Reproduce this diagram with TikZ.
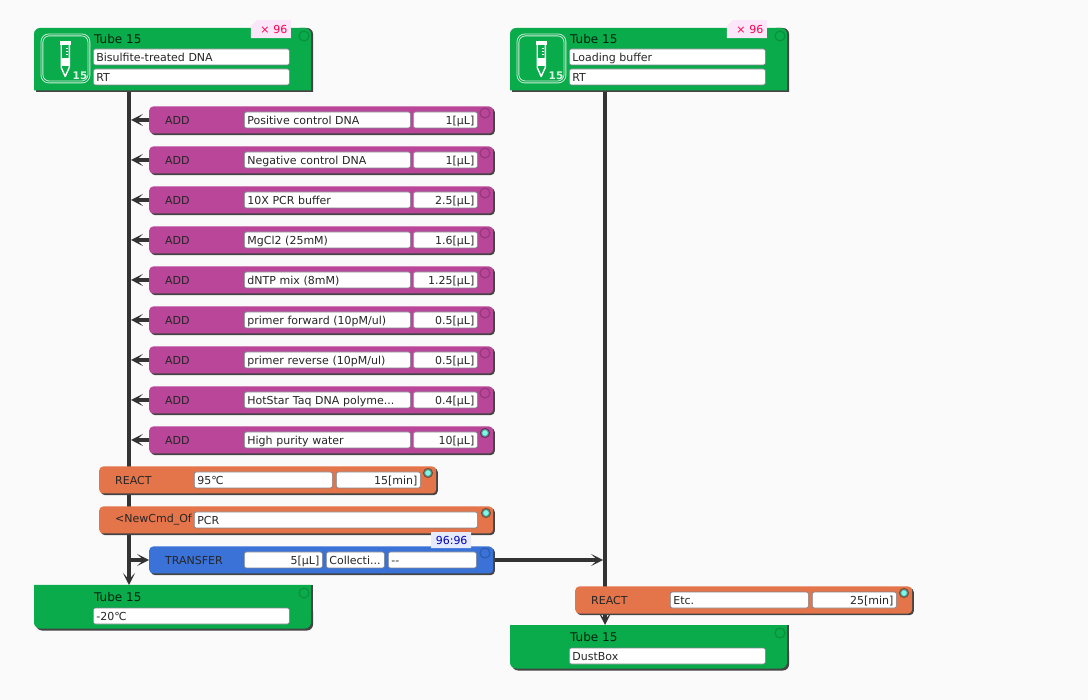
\documentclass[tikz,border=0pt]{standalone}
\usepackage{fontspec}
\setmainfont{DejaVu Sans}
\usetikzlibrary{arrows.meta,backgrounds,shadows,shapes.misc}
\definecolor{pagegrey}{HTML}{FAFAFA}
\definecolor{tubegreen}{HTML}{0AAB4A}
\definecolor{tubedark}{HTML}{0A8E40}
\definecolor{addpurple}{HTML}{BA4699}
\definecolor{reactorange}{HTML}{E4744A}
\definecolor{transferblue}{HTML}{3A72D8}
\definecolor{edgegrey}{HTML}{444444}
\definecolor{busgrey}{HTML}{333333}
\definecolor{fieldgrey}{HTML}{7C8690}
\definecolor{ledcyan}{HTML}{7FF7E6}
\definecolor{badgepink}{HTML}{FCE6FA}
\definecolor{badgeblue}{HTML}{E6EBFC}
\newcommand{\cutdots}{...}
\tikzset{
  lbl/.style={font=\fontsize{11}{13}\selectfont, inner sep=0pt, text=black!85},
  cmd/.style={rectangle, rounded corners=4pt, minimum width=#1, minimum height=27pt, inner sep=0pt, anchor=west,
    drop shadow={shadow xshift=1.6pt, shadow yshift=-1.6pt, opacity=1, fill=edgegrey}},
  field/.style={lbl, rectangle, anchor=west, fill=white, draw=fieldgrey, line width=.7pt, rounded corners=2pt,
    text width=#1-6pt, minimum height=16pt, inner xsep=3pt, text height=9.6pt, text depth=.4pt},
  num/.style={field=#1, align=right},
  head/.style={lbl, anchor=west, font=\fontsize{12}{14}\selectfont, text=black!80!tubegreen},
  led/.style={circle, minimum size=10pt, inner sep=0pt, line width=1.1pt, draw=black, draw opacity=.2},
  ledon/.style={circle, minimum size=8pt, inner sep=0pt, line width=2pt, draw=black, draw opacity=.4, fill=ledcyan},
  badge/.style={lbl, chamfered rectangle, chamfered rectangle corners=north west, chamfered rectangle xsep=3pt,
    chamfered rectangle ysep=3pt, inner xsep=.5pt, inner ysep=0pt, minimum height=18pt, minimum width=40pt,
    anchor=north east, text width=33pt, align=right},
  bus/.style={busgrey, line width=3.8pt},
  link/.style={busgrey, line width=3.4pt},
  tip/.style={-{Stealth[length=12pt, width=12pt, inset=6.5pt]}},
}
% green card: name, x, y, with rounded top
\newcommand{\tubetop}[3]{
  \fill[edgegrey, rounded corners=6pt] (#2+2,#3+20) [sharp corners] -- (#2+2,#3+64) -- (#2+279,#3+64) [rounded corners=6pt] -- (#2+279,#3) -- (#2+260,#3) -- (#2+260,#3+20) -- cycle;
  \fill[tubegreen, rounded corners=6pt] (#2,#3+20) -- (#2,#3) -- (#2+277,#3) -- (#2+277,#3+20) [sharp corners] -- (#2+277,#3+62.5) -- (#2,#3+62.5) -- cycle;
  \node[anchor=north west, minimum width=277pt, minimum height=64pt, inner sep=0pt] (#1) at (#2,#3) {};
}
% green card: name, x, y, with rounded bottom
\newcommand{\tubeend}[3]{
  \fill[edgegrey, rounded corners=6pt] (#2+279,#3+20) -- (#2+279,#3+45.5) -- (#2+2,#3+45.5) -- (#2+2,#3+20) -- cycle;
  \fill[edgegrey] (#2+270,#3) rectangle (#2+279,#3+30);
  \fill[tubegreen, rounded corners=6pt] (#2,#3+20) -- (#2,#3+43.5) -- (#2+277,#3+43.5) -- (#2+277,#3+20) [sharp corners] -- (#2+277,#3) -- (#2,#3) -- cycle;
  \node[anchor=north west, minimum width=277pt, minimum height=45pt, inner sep=0pt] (#1) at (#2,#3) {};
}
% tube picture: name, x, y
\newcommand{\tubeicon}[3]{
  \node[anchor=north west, rectangle, rounded corners=7pt, minimum width=47pt, minimum height=47pt, inner sep=0pt,
    draw=white!80!tubegreen, double=tubegreen, double distance=1pt, line width=.9pt] (#1) at (#2,#3) {};
  \fill[white] (#2+18,#3+7) rectangle (#2+29.5,#3+10.5);
  \draw[white, line width=1.4pt, line join=round] (#2+19.7,#3+10.5) -- (#2+19.7,#3+33) -- (#2+23.7,#3+42) -- (#2+27.8,#3+33) -- (#2+27.8,#3+10.5);
  \fill[white] (#2+19.7,#3+24) rectangle (#2+27.8,#3+32);
  \draw[white, line width=.8pt] (#2+24,#3+14) -- (#2+26,#3+14) (#2+24,#3+17) -- (#2+26,#3+17) (#2+24,#3+20) -- (#2+26,#3+20);
  \node[lbl, text=white!85!tubegreen, font=\fontsize{10.5}{12}\selectfont\bfseries] at (#2+38.5,#3+41.5) {15};
}
\begin{document}
\begin{tikzpicture}[x=1pt,y=-1pt]
  \useasboundingbox (0,0) rectangle (1088,700);
  \coordinate (busA) at (129,0);
  \coordinate (busB) at (605,0);

  % source tubes
  \tubetop{tubeA}{34}{28}
  \tubeicon{iconA}{41.5}{34.5}
  \node[head] (titleA) at (94,39.5) {Tube 15};
  \node[field=196pt] (sampleA) at (93,57) {Bisulfite-treated DNA};
  \node[field=196pt] (tempA) at (93,77) {RT};
  \node[led, draw=tubedark, draw opacity=1] (ledA) at (304,36) {};
  \node[badge, fill=badgepink, text=red!70!magenta] (countA) at (291,20) {× 96};

  \tubetop{tubeB}{510}{28}
  \tubeicon{iconB}{517.5}{34.5}
  \node[head] (titleB) at (570,39.5) {Tube 15};
  \node[field=196pt] (sampleB) at (569,57) {Loading buffer};
  \node[field=196pt] (tempB) at (569,77) {RT};
  \node[led, draw=tubedark, draw opacity=1] (ledB) at (780,36) {};
  \node[badge, fill=badgepink, text=red!70!magenta] (countB) at (767,20) {× 96};

  % reagents
  \foreach \reagent/\vol/\state [count=\n] in {
      Positive control DNA/1[µL]/led,
      Negative control DNA/1[µL]/led,
      10X PCR buffer/2.5[µL]/led,
      MgCl2 (25mM)/1.6[µL]/led,
      dNTP mix (8mM)/1.25[µL]/led,
      {primer forward (10pM/ul)}/0.5[µL]/led,
      {primer reverse (10pM/ul)}/0.5[µL]/led,
      HotStar Taq DNA polyme\cutdots/0.4[µL]/led,
      High purity water/10[µL]/ledon} {
    \node[cmd=344pt, fill=addpurple] (add\n) at (149,80+40*\n) {};
    \node[lbl, anchor=west] (addlbl\n) at (165,80+40*\n) {ADD};
    \node[field=166pt] (reagent\n) at (244,80+40*\n) {\reagent};
    \node[num=64pt] (vol\n) at (413,80+40*\n) {\vol};
    \node[\state] (addled\n) at (485,73+40*\n) {};
  }

  % reaction and command
  \node[cmd=337pt, fill=reactorange] (reactA) at (99,480) {};
  \node[lbl, anchor=west] (reactlblA) at (115,480) {REACT};
  \node[field=138pt] (reacttempA) at (194,480) {95℃};
  \node[num=84pt] (reacttimeA) at (336,480) {15[min]};
  \node[ledon] (reactledA) at (428,473) {};

  \node[cmd=394pt, fill=reactorange] (newcmd) at (99,520) {};
  \node[lbl, anchor=west] (newcmdlbl) at (115,520) {<NewCmd\_Of};
  \node[field=283pt] (newcmdname) at (194,520) {PCR};
  \node[ledon] (newcmdled) at (486,513) {};

  % transfer
  \node[cmd=344pt, fill=transferblue] (transfer) at (149,560) {};
  \node[lbl, anchor=west] (transferlbl) at (165,560) {TRANSFER};
  \node[num=78pt] (transfervol) at (244,560) {5[µL]};
  \node[field=58pt] (transferdest) at (326,560) {Collecti...};
  \node[field=88pt] (transfernote) at (388,560) {-{}-};
  \node[led] (transferled) at (485,553) {};
  \node[badge, fill=badgeblue, text=blue!75!black, chamfered rectangle corners={}, chamfered rectangle xsep=0pt, chamfered rectangle ysep=0pt, minimum height=16pt] (ratio) at (471,532) {96:96};

  % end tubes
  \tubeend{tubeC}{34}{585}
  \node[head] (titleC) at (94,597) {Tube 15};
  \node[field=196pt] (storeC) at (93,616) {-20℃};
  \node[led, draw=tubedark, draw opacity=1] (ledC) at (304,593) {};

  \node[cmd=337pt, fill=reactorange] (reactB) at (575,600) {};
  \node[lbl, anchor=west] (reactlblB) at (591,600) {REACT};
  \node[field=138pt] (reacttempB) at (670,600) {Etc.};
  \node[num=84pt] (reacttimeB) at (812,600) {25[min]};
  \node[ledon] (reactledB) at (904,593) {};

  \tubeend{tubeD}{510}{625}
  \node[head] (titleD) at (570,637) {Tube 15};
  \node[field=196pt] (storeD) at (569,656) {DustBox};
  \node[led, draw=tubedark, draw opacity=1] (ledD) at (780,633) {};

  % connectors
  \begin{scope}[on background layer]
    \fill[pagegrey] (0,0) rectangle (1088,700);
    \draw[bus, tip] (tubeA.south -| busA) -- (tubeC.north -| busA);
    \draw[bus, tip] (tubeB.south -| busB) -- (tubeD.north -| busB);
    \foreach \n in {1,...,9} {
      \draw[link, tip] (add\n.west) -- ([xshift=2pt]add\n.west -| busA);
    }
    \draw[link, tip] (transfer.west -| busA) -- (transfer.west);
    \draw[link, tip] (transfer.east) -- ([xshift=-2pt]transfer.east -| busB);
  \end{scope}
\end{tikzpicture}
\end{document}
